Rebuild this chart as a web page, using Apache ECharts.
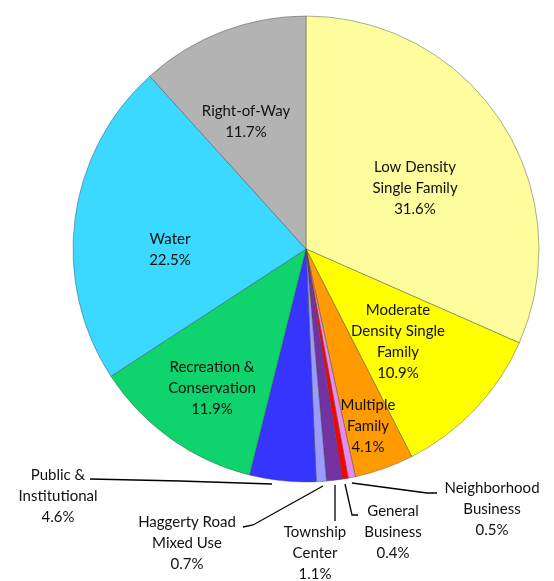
<!DOCTYPE html>
<html>
<head>
<meta charset="utf-8">
<script src="https://cdn.jsdelivr.net/npm/echarts@6/dist/echarts.min.js"></script>
<style>
html,body{margin:0;padding:0;background:#fff;}
#chart{width:554px;height:581px;}
</style>
</head>
<body>
<div id="chart"></div>
<script>
// Data (clockwise from 12 o'clock)
const categories = [
  "Low Density\nSingle Family",
  "Moderate\nDensity Single\nFamily",
  "Multiple\nFamily",
  "Neighborhood\nBusiness",
  "General\nBusiness",
  "Township\nCenter",
  "Haggerty Road\nMixed Use",
  "Public &\nInstitutional",
  "Recreation &\nConservation",
  "Water",
  "Right-of-Way"
];
const values = [31.6, 10.9, 4.1, 0.5, 0.4, 1.1, 0.7, 4.6, 11.9, 22.5, 11.7];

// Styling / layout (not data)
const colors = ["#FDFD9E", "#FFFF00", "#FF9B00", "#E98BE9", "#FF0000", "#7232A2",
                "#9A9AFF", "#3535FF", "#0FD36C", "#3BD8FF", "#B3B3B3"];
const outsideLabel = [false, false, false, true, true, true, true, true, false, false, false];
const labelPos = [
  [415, 188], [398, 342], [368, 426], [492, 509], [393, 532], [315, 553],
  [187, 543], [58, 496], [212, 388], [170, 250], [246, 122]
];
const leaderPts = {
  3: [[352, 483], [427, 493], [437, 493]],
  4: [[345, 484], [352, 515], [358, 515]],
  5: [[335, 485], [335, 503], [335, 521]],
  6: [[323, 486], [253, 525], [243, 527]],
  7: [[272, 484], [180, 481], [90, 479]]
};

const chart = echarts.init(document.getElementById('chart'), null, {renderer: 'canvas'});
const seriesData = categories.map((name, i) => ({
  name: name,
  value: values[i],
  itemStyle: {color: colors[i]},
  label: {position: outsideLabel[i] ? 'outside' : 'inside'},
  labelLine: {show: outsideLabel[i]}
}));

chart.setOption({
  animation: false,
  backgroundColor: '#ffffff',
  series: [{
    type: 'pie',
    center: [306, 249],
    radius: [0, 233],
    startAngle: 90,
    clockwise: true,
    avoidLabelOverlap: false,
    data: seriesData,
    itemStyle: {borderColor: 'rgba(70,70,70,0.55)', borderWidth: 0.8},
    label: {
      show: true,
      color: '#111',
      fontFamily: 'Lato',
      fontSize: 15,
      lineHeight: 21,
      align: 'center',
      formatter: p => p.name + '\n' + p.value.toFixed(1) + '%'
    },
    labelLine: {lineStyle: {color: '#000', width: 1.3}},
    emphasis: {disabled: true},
    labelLayout: function (params) {
      const i = params.dataIndex;
      const res = {x: labelPos[i][0], y: labelPos[i][1], align: 'center', verticalAlign: 'middle'};
      if (leaderPts[i]) res.labelLinePoints = leaderPts[i];
      return res;
    }
  }]
});
</script>
</body>
</html>
